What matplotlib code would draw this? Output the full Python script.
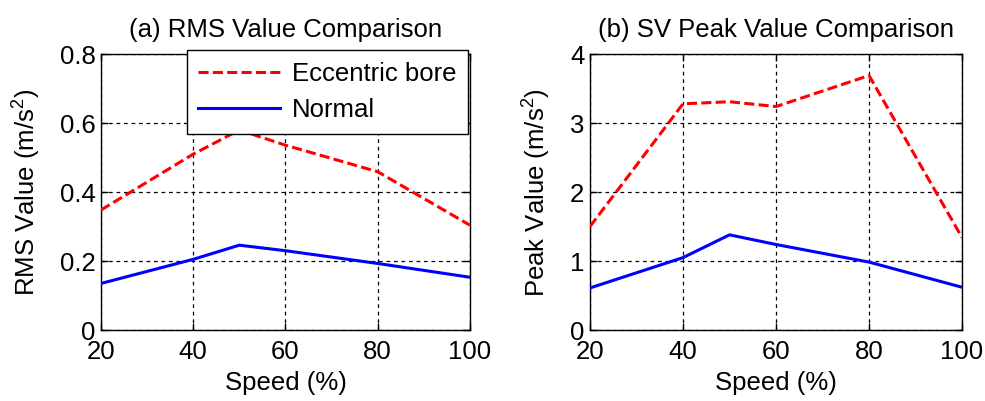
import matplotlib
matplotlib.use("Agg")
import matplotlib.pyplot as plt

plt.rcParams['font.family'] = ['Liberation Sans', 'DejaVu Sans']
plt.rcParams['mathtext.fontset'] = 'custom'
plt.rcParams['mathtext.rm'] = 'Liberation Sans'
plt.rcParams['mathtext.it'] = 'Liberation Sans'

speed = [20, 40, 50, 60, 80, 100]
rms_ecc = [0.348, 0.51, 0.58, 0.536, 0.459, 0.304]
rms_norm = [0.135, 0.205, 0.246, 0.23, 0.193, 0.153]
peak_ecc = [1.50, 3.28, 3.31, 3.24, 3.69, 1.34]
peak_norm = [0.61, 1.05, 1.38, 1.24, 0.985, 0.62]

titles = ['(a) RMS Value Comparison', '(b) SV Peak Value Comparison']
ylabels = ['RMS Value (m/s$^2$)', 'Peak Value (m/s$^2$)']
xticks = [20, 40, 60, 80, 100]
yticks_a = [0, 0.2, 0.4, 0.6, 0.8]
yticks_b = [0, 1, 2, 3, 4]
yticklabels_a = ['0', '0.2', '0.4', '0.6', '0.8']
yticklabels_b = ['0', '1', '2', '3', '4']

fs = 18.5
fig = plt.figure(figsize=(9.85, 4.01), dpi=100)
ax1 = fig.add_axes([0.1025, 0.177, 0.3746, 0.688])
ax2 = fig.add_axes([0.599, 0.177, 0.3777, 0.688])

for ax, ecc, norm, title, ylab, yt, ytl in [
    (ax1, rms_ecc, rms_norm, titles[0], ylabels[0], yticks_a, yticklabels_a),
    (ax2, peak_ecc, peak_norm, titles[1], ylabels[1], yticks_b, yticklabels_b)]:
    ax.plot(speed, ecc, color='#ff0000', linestyle=(0, (3.3, 1.4)), linewidth=2.2, label='Eccentric bore', zorder=3)
    ax.plot(speed, norm, color='#0000ff', linestyle='-', linewidth=2.2, label='Normal', zorder=3)
    ax.set_xlim(20, 100)
    ax.set_ylim(yt[0], yt[-1])
    ax.set_xticks(xticks)
    ax.set_xticklabels([str(v) for v in xticks])
    ax.set_yticks(yt)
    ax.set_yticklabels(ytl)
    ax.grid(True, color='black', linestyle=(0, (3, 3)), linewidth=0.9)
    ax.tick_params(direction='in', top=True, right=True, length=5, width=1, labelsize=fs)
    ax.tick_params(axis='x', pad=7.5)
    ax.tick_params(axis='y', pad=4)
    for s in ax.spines.values():
        s.set_linewidth(1.0)
    ax.set_title(title, fontsize=fs, pad=12)
    ax.set_xlabel('Speed (%)', fontsize=fs, labelpad=5)
    ax.set_ylabel(ylab, fontsize=fs, labelpad=12)

leg = ax1.legend(loc='upper right', bbox_to_anchor=(0.995, 1.015), fontsize=fs,
                 frameon=True, fancybox=False, edgecolor='black', framealpha=1,
                 handlelength=3.2, handletextpad=0.45, labelspacing=0.5, borderpad=0.45,
                 borderaxespad=0)
leg.get_frame().set_linewidth(1.0)
leg.set_zorder(5)

fig.savefig('out.png', dpi=100)
